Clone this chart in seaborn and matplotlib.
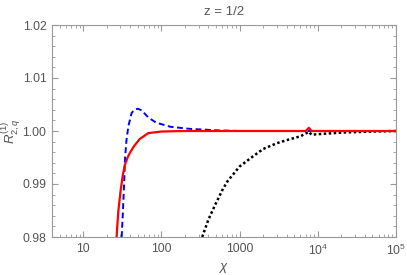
import numpy as np
import pandas as pd
import seaborn as sns
import matplotlib
matplotlib.use("Agg")
import matplotlib.pyplot as plt
from matplotlib.ticker import LogLocator, NullFormatter, MultipleLocator

# values
red_x = [26.8, 28, 30, 32, 34, 37, 40, 45, 53, 68, 100, 200, 1000, 7000, 7700, 8300, 20000, 100000]
red_y = [0.980, 0.9845, 0.9885, 0.9915, 0.9935, 0.9950, 0.9960, 0.9972, 0.9985, 0.9996,
         0.9999, 1.0000, 1.0000, 1.0000, 1.0006, 1.0000, 1.0000, 1.0000]

blue_x = [31.1, 32.3, 33.4, 34.4, 35.9, 38, 41.7, 45, 50, 56, 67.6, 85, 130, 233, 563, 1000, 100000]
blue_y = [0.980, 0.985, 0.990, 0.9951, 0.9984, 1.0010, 1.0034, 1.0040, 1.0042, 1.0039,
          1.0026, 1.0016, 1.0008, 1.0004, 1.0001, 1.0000, 1.0000]

black_x = [333, 400, 485, 600, 700, 1000, 1480, 2000, 3000, 4050, 6000, 7700, 8300,
           10000, 20000, 50000, 100000]
black_y = [0.980, 0.9833, 0.9860, 0.9888, 0.9905, 0.9933, 0.9952, 0.9966, 0.9977, 0.9983,
           0.9990, 0.99985, 0.9993, 0.9994, 0.9997, 0.9999, 1.0000]

xticks = [10, 100, 1000, 1e4, 1e5]
xticklabels = ["10", "100", "1000", "$10^4$", "$10^5$"]
yticks = [0.98, 0.99, 1.00, 1.01, 1.02]

sns.set_theme(style="ticks")
plt.rcParams["font.family"] = ["Liberation Sans", "DejaVu Sans"]
plt.rcParams["mathtext.fontset"] = "custom"
plt.rcParams["mathtext.rm"] = "Liberation Sans"
plt.rcParams["mathtext.it"] = "Liberation Sans:italic"

grey = "#999999"
txt = "#555555"

fig = plt.figure(figsize=(4.07, 2.75), dpi=100)
ax = fig.add_axes([52 / 407, 1 - 237 / 275, 344 / 407, 212 / 275])

df_blue = pd.DataFrame({"x": blue_x, "y": blue_y})
df_black = pd.DataFrame({"x": black_x, "y": black_y})
df_red = pd.DataFrame({"x": red_x, "y": red_y})

sns.lineplot(data=df_black, x="x", y="y", ax=ax, color="black", lw=1.8,
             linestyle=(0, (1, 1)))
sns.lineplot(data=df_blue, x="x", y="y", ax=ax, color="#0000ff", lw=1.4,
             linestyle=(0, (3, 1.8)))
sns.lineplot(data=df_red, x="x", y="y", ax=ax, color="#ff0000", lw=1.6)

ax.set_xscale("log")
ax.set_xlim(4, 1e5)
ax.set_ylim(0.98, 1.02)
ax.set_xticks(xticks)
ax.set_xticklabels(xticklabels)
ax.xaxis.set_minor_locator(LogLocator(base=10, subs=np.arange(2, 10)))
ax.xaxis.set_minor_formatter(NullFormatter())
ax.set_yticks(yticks)
ax.set_yticklabels([f"{v:.2f}" for v in yticks])
ax.yaxis.set_minor_locator(MultipleLocator(0.002))

for s in ax.spines.values():
    s.set_color(grey)
    s.set_linewidth(0.8)
ax.tick_params(which="both", direction="in", top=True, right=True,
               color=grey, labelcolor=txt, labelsize=8.7)
ax.tick_params(which="major", length=4, width=0.8, pad=4)
ax.tick_params(which="minor", length=2, width=0.6)

ax.set_xlabel("$\\chi$", color=txt, fontsize=9.5, labelpad=2)
ax.set_ylabel("$R^{(1)}_{2,q}$", color=txt, fontsize=9.5)
ax.yaxis.set_label_coords(-0.085, 0.5)
ax.set_title("z = 1/2", color=txt, fontsize=9.5, pad=7)

fig.savefig("out.png", dpi=100)
